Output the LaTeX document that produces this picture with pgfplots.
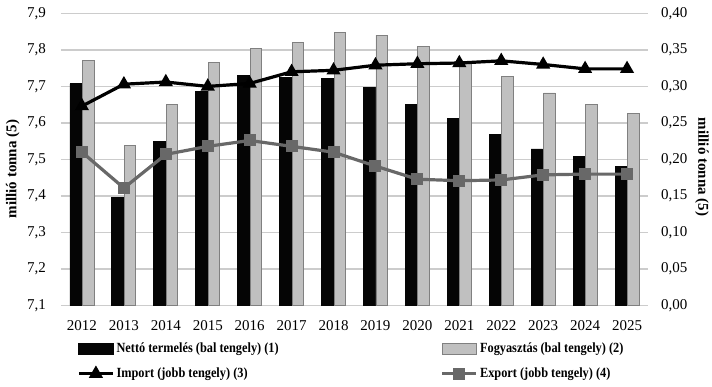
\documentclass[border=0pt]{standalone}
\usepackage{fontspec}
\setmainfont{Liberation Serif}
\newfontfamily\legfont[FakeStretch=0.88]{Liberation Serif}
\usepackage{pgfplots}
\pgfplotsset{compat=1.18}
\usepackage{pgfplotstable}

\pgfplotstableread{
x prod cons imp exp
0 7.707 7.772 0.273 0.210
1 7.395 7.538 0.303 0.161
2 7.549 7.651 0.306 0.207
3 7.686 7.766 0.300 0.218
4 7.729 7.803 0.304 0.226
5 7.725 7.820 0.320 0.218
6 7.722 7.848 0.322 0.210
7 7.696 7.840 0.329 0.191
8 7.650 7.810 0.331 0.173
9 7.613 7.765 0.332 0.171
10 7.569 7.728 0.335 0.172
11 7.529 7.682 0.330 0.179
12 7.508 7.651 0.324 0.180
13 7.480 7.626 0.324 0.180
}\data

\definecolor{barblack}{HTML}{050505}
\definecolor{bargray}{HTML}{C0C0C0}
\definecolor{baredge}{HTML}{808080}
\definecolor{expgray}{HTML}{686868}
\definecolor{gridc}{HTML}{CCCCCC}

\pgfplotsset{base/.style={
  at={(0,0)}, anchor=south west,
  scale only axis, width=293.5pt, height=146.2pt,
  xmin=-0.5, xmax=13.5,
  axis line style={draw=none}, tick style={draw=none},
  ticklabel style={font=\fontsize{7.5}{9}\selectfont},
  label style={font=\bfseries\fontsize{7.5}{9}\selectfont},
  /pgf/number format/assume math mode=true,
  /pgf/number format/.cd, use comma, fixed, fixed zerofill, 1000 sep={},
}}

\begin{document}
\begin{tikzpicture}
\useasboundingbox (-30.5pt,-40.15pt) rectangle (325.5pt,152.85pt);
\begin{axis}[base,
  ybar=0.5pt, bar width=5.75pt,
  ymin=7.1, ymax=7.9,
  ytick={7.1,7.2,7.3,7.4,7.5,7.6,7.7,7.8,7.9},
  /pgf/number format/precision=1,
  yticklabel style={xshift=-4pt},
  ymajorgrids, major grid style={gridc, line width=0.7pt},
  xtick={0,...,13},
  xticklabels={2012,2013,2014,2015,2016,2017,2018,2019,2020,2021,2022,2023,2024,2025},
  xticklabel style={yshift=0.5pt},
  ylabel={millió tonna (5)},
  ylabel style={at={(rel axis cs:-0.082,0.467)}, anchor=center},
]
\addplot[fill=barblack, draw=barblack] table[x=x, y=prod] {\data};
\addplot[fill=bargray, draw=baredge, line width=0.4pt] table[x=x, y=cons] {\data};
\end{axis}
\begin{axis}[base,
  axis x line=none, axis y line*=right,
  ymin=0, ymax=0.4,
  ytick={0,0.05,0.1,0.15,0.2,0.25,0.3,0.35,0.4},
  /pgf/number format/precision=2,
  yticklabel style={xshift=3pt},
  ylabel={millió tonna (5)},
  ylabel style={rotate=180, at={(rel axis cs:1.092,0.474)}, anchor=center},
  legend columns=2,
  legend cell align=left,
  legend style={draw=none, fill=none, at={(rel axis cs:0.027,-0.118)}, anchor=north west,
    inner sep=0pt, row sep=4pt,
    font=\legfont\bfseries\fontsize{7}{8}\selectfont,
    nodes={inner sep=1pt},
    /tikz/every even column/.append style={column sep=80pt}},
]
\addlegendimage{area legend, fill=barblack, draw=barblack}
\addlegendentry{Nettó termelés (bal tengely) (1)}
\addlegendimage{area legend, fill=bargray, draw=baredge}
\addlegendentry{Fogyasztás (bal tengely) (2)}
\addplot[black, line width=1.6pt, mark=triangle*, mark size=2.5pt, mark options={solid}] table[x=x, y=imp] {\data};
\addlegendentry{Import (jobb tengely) (3)}
\addplot[expgray, line width=1.6pt, mark=square*, mark size=2.2pt] table[x=x, y=exp] {\data};
\addlegendentry{Export (jobb tengely) (4)}
\end{axis}
\end{tikzpicture}
\end{document}
